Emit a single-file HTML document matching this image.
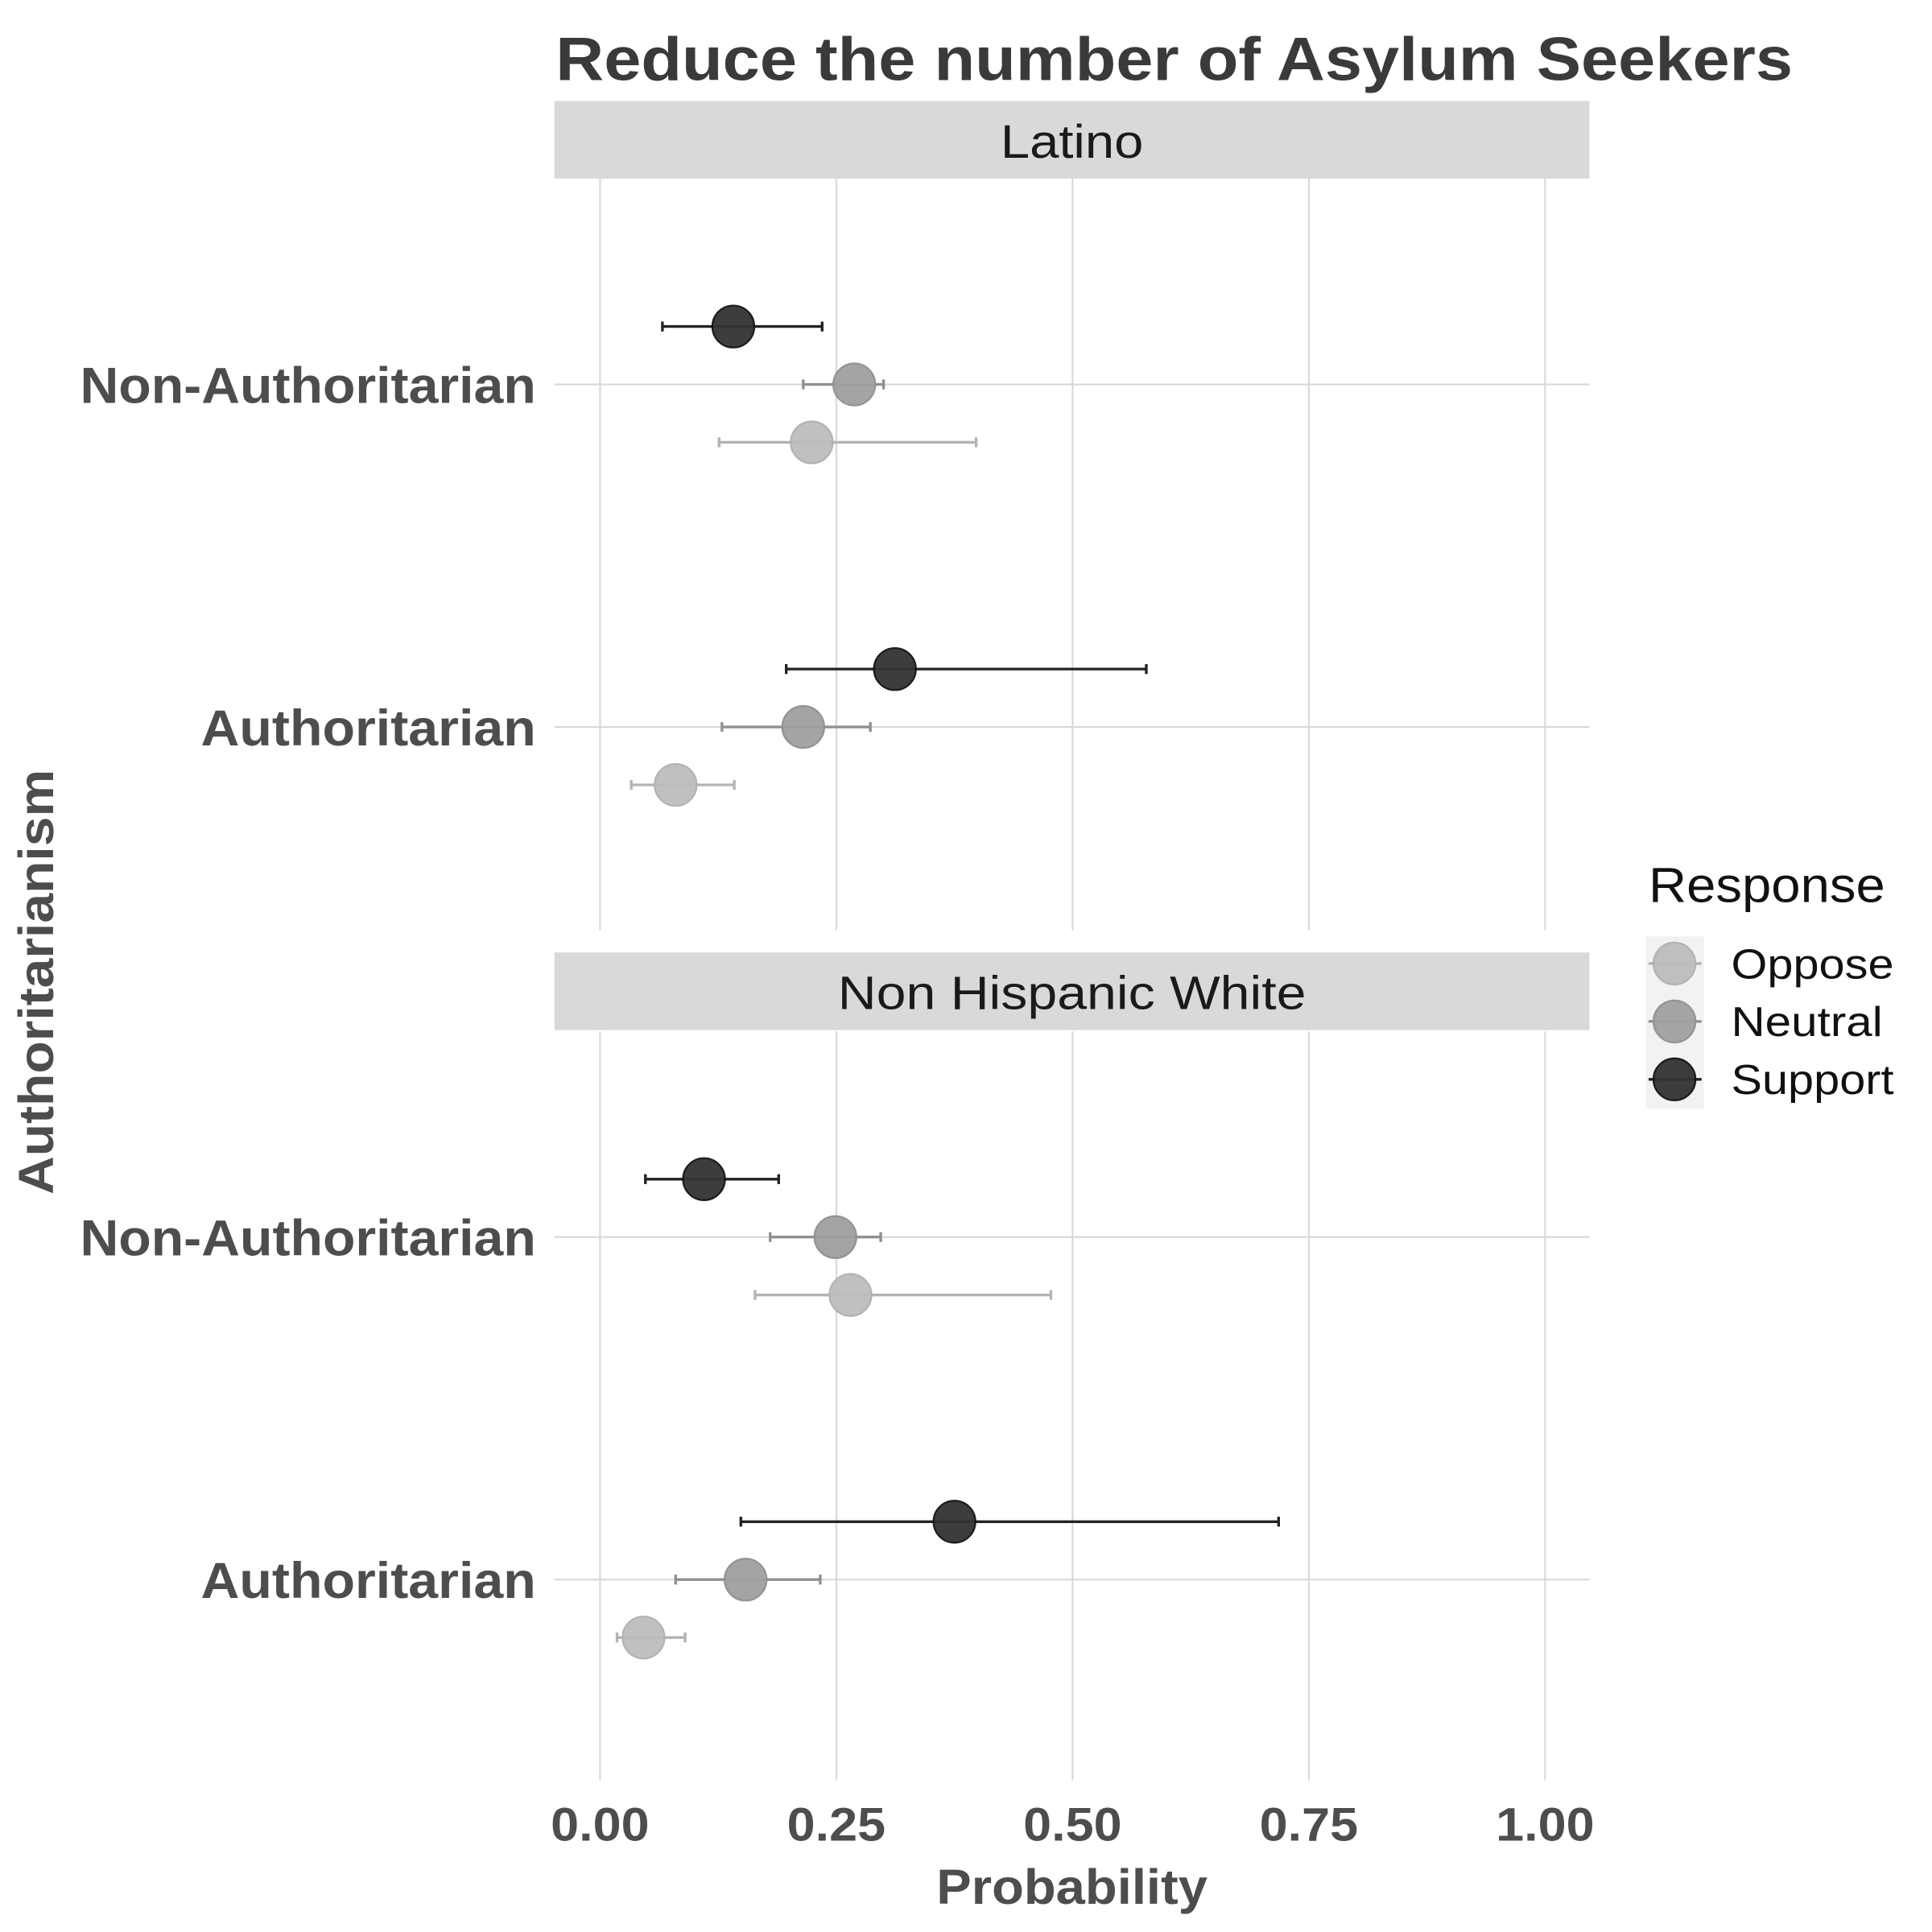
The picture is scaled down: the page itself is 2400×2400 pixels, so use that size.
<!DOCTYPE html>
<html><head><meta charset="utf-8"><style>html,body{margin:0;padding:0;background:#fff}svg{display:block}text{font-family:"Liberation Sans",Arial,sans-serif}</style></head>
<body>
<svg id="chart" width="2400" height="2400" viewBox="0 0 1568 1568" xmlns="http://www.w3.org/2000/svg">
<text x="451" y="65" font-size="50" font-weight="bold" fill="#3a3a3a" textLength="1004" lengthAdjust="spacingAndGlyphs">Reduce the number of Asylum Seekers</text>
<g id="panels"></g>
<text transform="translate(43,797) rotate(-90)" text-anchor="middle" font-size="40" font-weight="bold" fill="#4d4d4d" textLength="345" lengthAdjust="spacingAndGlyphs">Authoritarianism</text>
<text x="870" y="1545" text-anchor="middle" font-size="40" font-weight="bold" fill="#4d4d4d" textLength="220" lengthAdjust="spacingAndGlyphs">Probability</text>
<g>
<text x="1338" y="732" font-size="40" fill="#111" textLength="192" lengthAdjust="spacingAndGlyphs">Response</text>
<rect x="1336" y="760" width="47" height="140" fill="#f2f2f2"/>
</g>
<g id="legend-keys"></g>
</svg>
<script>
const panels = ['Latino', 'Non Hispanic White'];
const groups = ['Non-Authoritarian', 'Authoritarian'];
const responses = ['Oppose', 'Neutral', 'Support'];
const xTicks = [0, 0.25, 0.5, 0.75, 1.0];
const xTickLabels = ['0.00', '0.25', '0.50', '0.75', '1.00'];
// [group] -> per response (Oppose, Neutral, Support)
const estLatino = [[0.224, 0.269, 0.141], [0.08, 0.215, 0.312]];
const lowLatino = [[0.126, 0.215, 0.066], [0.033, 0.129, 0.197]];
const highLatino = [[0.398, 0.30, 0.235], [0.142, 0.286, 0.578]];
const estWhite = [[0.265, 0.249, 0.11], [0.046, 0.154, 0.375]];
const lowWhite = [[0.164, 0.18, 0.048], [0.018, 0.08, 0.149]];
const highWhite = [[0.477, 0.297, 0.189], [0.09, 0.233, 0.718]];

const est = [estLatino, estWhite], low = [lowLatino, lowWhite], high = [highLatino, highWhite];
const fills = ['#bdbdbd', '#a0a0a0', '#333333'];
const strokes = ['#b0b0b0', '#8f8f8f', '#111111'];
const lines = ['#b3b3b3', '#909090', '#222222'];
const NS = 'http://www.w3.org/2000/svg';
function X(v) { return 487 + v * 767; }
const panelTop = [145, 837], panelBot = [755, 1445], stripTop = [82, 773];
const groupY = [[312, 590], [1004, 1282]];
const stripW = [116, 380];
const groupW = [370, 272];
function el(tag, attrs, parent) { const e = document.createElementNS(NS, tag); for (const k in attrs) e.setAttribute(k, attrs[k]); parent.appendChild(e); return e; }
const root = document.getElementById('panels');
panels.forEach((p, pi) => {
  const g = el('g', {}, root);
  
  
  const s = el('rect', {x: 450, y: stripTop[pi], width: 840, height: 63, fill: '#d9d9d9'}, g);
  
  
  const st = el('text', {x: 870, y: stripTop[pi] + 46, 'text-anchor': 'middle', 'font-size': 38, fill: '#1a1a1a', textLength: stripW[pi], lengthAdjust: 'spacingAndGlyphs'}, g);
  st.textContent = p;
  
  
  xTicks.forEach(t => {
    const l = el('line', {x1: X(t), x2: X(t), y1: panelTop[pi], y2: panelBot[pi], stroke: '#d6d6d6', 'stroke-width': 1.3}, g);
    
    
  });
  groups.forEach((gr, gi) => {
    const y0 = groupY[pi][gi];
    const l = el('line', {x1: 450, x2: 1290, y1: y0, y2: y0, stroke: '#d6d6d6', 'stroke-width': 1.3}, g);
    
    
    const lab = el('text', {x: 435, y: y0 + 15, 'text-anchor': 'end', 'font-size': 41, 'font-weight': 'bold', fill: '#4d4d4d', textLength: groupW[gi], lengthAdjust: 'spacingAndGlyphs'}, g);
    lab.textContent = gr;
    
    
    responses.forEach((r, ri) => {
      const y = y0 + (1 - ri) * 47;
      const lo = X(low[pi][gi][ri]), hi = X(high[pi][gi][ri]);
      const eb = el('path', {d: `M${lo},${y}H${hi}M${lo},${y-4}V${y+4}M${hi},${y-4}V${y+4}`, stroke: lines[ri], 'stroke-width': 2.2, fill: 'none'}, g);
      
      
      const c = el('circle', {cx: X(est[pi][gi][ri]), cy: y, r: 17, fill: fills[ri], stroke: strokes[ri], 'stroke-width': 1.5, opacity: 0.95}, g);
      
      
    });
  });
});
xTicks.forEach((t, i) => {
  const tx = el('text', {x: X(t), y: 1494, 'text-anchor': 'middle', 'font-size': 38, 'font-weight': 'bold', fill: '#4d4d4d', textLength: 80, lengthAdjust: 'spacingAndGlyphs'}, root);
  tx.textContent = xTickLabels[i];
  
  
});
const lk = document.getElementById('legend-keys');
const legW = [132, 123, 132];
responses.forEach((r, ri) => {
  const y = 782 + ri * 47;
  const g = el('g', {}, lk);
  
  
  el('line', {x1: 1338, x2: 1381, y1: y, y2: y, stroke: lines[ri], 'stroke-width': 2.2}, g);
  el('circle', {cx: 1359, cy: y, r: 17, fill: fills[ri], stroke: strokes[ri], 'stroke-width': 1.5, opacity: 0.95}, g);
  const t = el('text', {x: 1405, y: y + 12, 'font-size': 34, fill: '#111', textLength: legW[ri], lengthAdjust: 'spacingAndGlyphs'}, g);
  t.textContent = r;
});
</script>
</body></html>
